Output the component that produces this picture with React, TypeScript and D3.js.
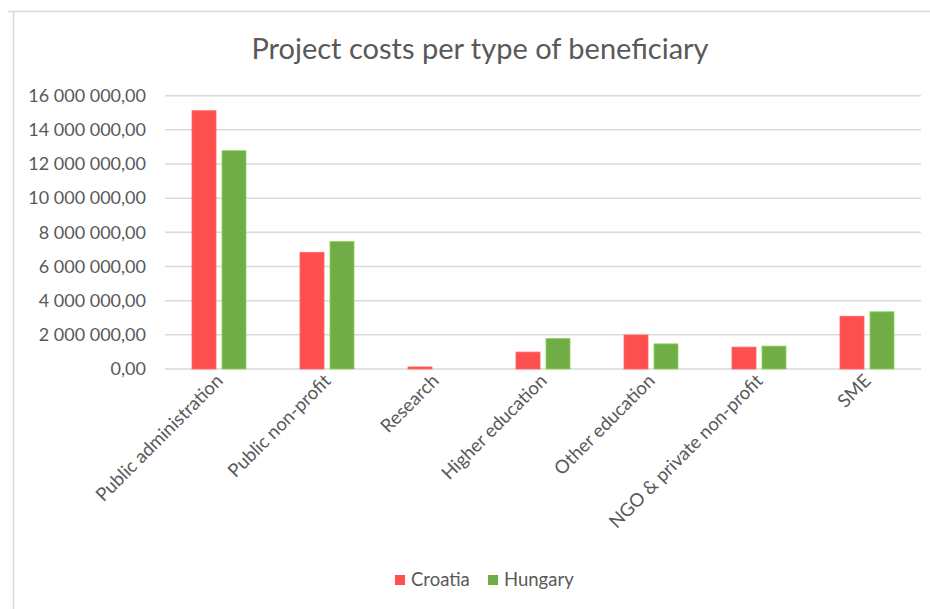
import React, { useEffect, useRef } from "react";
import * as d3 from "d3";

const categories = [
  "Public administration",
  "Public non-profit",
  "Research",
  "Higher education",
  "Other education",
  "NGO & private non-profit",
  "SME",
];
const seriesNames = ["Croatia", "Hungary"];
const croatia = [15120000, 6830000, 120000, 990000, 1990000, 1280000, 3090000];
const hungary = [12780000, 7470000, 0, 1790000, 1470000, 1340000, 3350000];
const yTicks = [0, 2000000, 4000000, 6000000, 8000000, 10000000, 12000000, 14000000, 16000000];
const colors = ["#FF5050", "#70AD47"];
const title = "Project costs per type of beneficiary";

const W = 930;
const H = 609;
const FONT = "Lato, 'Open Sans', sans-serif";
const TEXT = "#595959";

export default function App() {
  const ref = useRef<SVGSVGElement | null>(null);
  useEffect(() => {
    document.body.style.margin = "0";
    const svg = d3.select(ref.current);
    svg.selectAll("*").remove();

    const left = 165, right = 921, top = 95.7, bottom = 369;
    const x = d3.scaleBand<string>().domain(categories).range([left, right]).paddingInner(0).paddingOuter(0);
    const y = d3.scaleLinear().domain([0, 16000000]).range([bottom, top]);
    const locale = d3.formatLocale({ decimal: ",", thousands: " ", grouping: [3], currency: ["", ""] });
    const fmt = locale.format(",.2f");

    svg.append("rect").attr("width", W).attr("height", H).attr("fill", "#fff");
    // frame
    svg.append("line").attr("x1", 8).attr("x2", W).attr("y1", 11.5).attr("y2", 11.5).attr("stroke", "#d9d9d9").attr("stroke-width", 1.5);
    svg.append("line").attr("x1", 13.5).attr("x2", 13.5).attr("y1", 11).attr("y2", H).attr("stroke", "#d9d9d9").attr("stroke-width", 1.5);

    svg.append("text").attr("x", 480).attr("y", 59).attr("text-anchor", "middle")
      .attr("font-family", FONT).attr("font-size", 29).attr("fill", TEXT).text(title);

    const g = svg.append("g");
    g.selectAll("line.grid").data(yTicks).enter().append("line")
      .attr("x1", left).attr("x2", right)
      .attr("y1", (d) => y(d)).attr("y2", (d) => y(d))
      .attr("stroke", "#d9d9d9").attr("stroke-width", 1.5);
    g.selectAll("text.yt").data(yTicks).enter().append("text")
      .attr("x", 146).attr("y", (d) => y(d)).attr("dy", "0.35em").attr("text-anchor", "end")
      .attr("font-family", FONT).attr("font-size", 18).attr("fill", TEXT).text((d) => fmt(d));

    const inner = d3.scaleBand<number>().domain([0, 1]).range([-27, 27]).paddingInner(0.2).paddingOuter(0);
    [croatia, hungary].forEach((vals, si) => {
      g.selectAll(`rect.s${si}`).data(vals).enter().append("rect")
        .attr("x", (_d, i) => (x(categories[i]) as number) + x.bandwidth() / 2 + (inner(si) as number))
        .attr("width", inner.bandwidth())
        .attr("y", (d) => y(d))
        .attr("height", (d) => bottom - y(d))
        .attr("fill", colors[si])
        .attr("stroke", d3.color(colors[si])!.brighter(0.6).toString())
        .attr("stroke-width", (d) => (d > 0 ? 0.8 : 0));
    });

    g.selectAll("text.xt").data(categories).enter().append("text")
      .attr("transform", (d) => `translate(${(x(d) as number) + x.bandwidth() / 2 + 5},${382}) rotate(-45)`)
      .attr("text-anchor", "end")
      .attr("font-family", FONT).attr("font-size", 18.5).attr("fill", TEXT).text((d) => d);

    const leg = svg.append("g");
    const lx = [395, 488];
    seriesNames.forEach((n, i) => {
      leg.append("rect").attr("x", lx[i]).attr("y", 575).attr("width", 10).attr("height", 10).attr("fill", colors[i]);
      leg.append("text").attr("x", lx[i] + 16).attr("y", 580).attr("dy", "0.35em")
        .attr("font-family", FONT).attr("font-size", 18.5).attr("fill", TEXT).text(n);
    });
  }, []);
  return <svg ref={ref} width={W} height={H} style={{ display: "block" }} />;
}
